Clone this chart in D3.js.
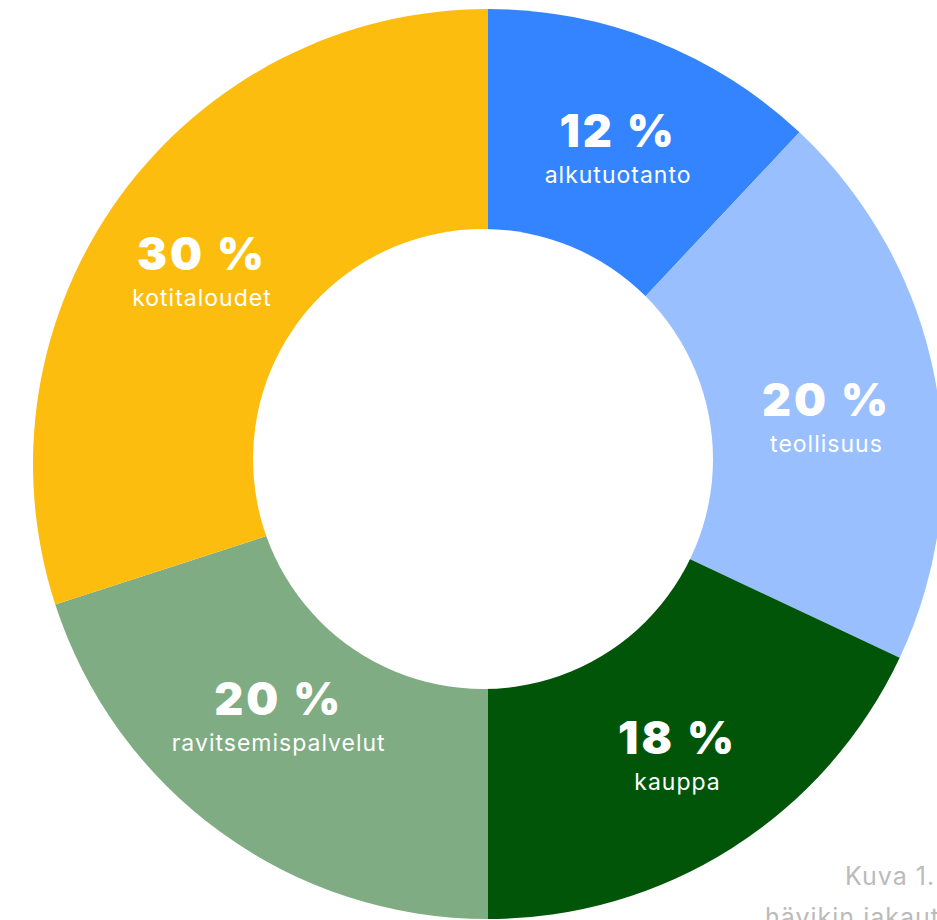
<!DOCTYPE html>
<html>
<head>
<meta charset="utf-8">
<script src="https://cdn.jsdelivr.net/npm/d3@7"></script>
<style>
  html, body { margin: 0; padding: 0; background: #fff; overflow: hidden; }
  svg { display: block; }
</style>
</head>
<body>
<div id="chart"></div>
<script>
// sector data, clockwise from 12 o'clock
const categories = ["alkutuotanto", "teollisuus", "kauppa", "ravitsemispalvelut", "kotitaloudet"];
const shares = [12, 20, 18, 20, 30];
const colors = ["#3584ff", "#99bfff", "#005509", "#80ac83", "#fdbd0f"];

const width = 937;
const height = 920;
const cx = 488, cy = 464;
const outerR = 455;
const holeR = 230;

// hand placement tweaks for the labels (px, relative to arc centroid)
const labelNudge = [[4, 0], [2, 15], [6, 0], [-8, -27], [-9, 6]];

const svg = d3.select("#chart").append("svg")
  .attr("width", width)
  .attr("height", height);

const pieData = categories.map((name, i) => ({ name, value: shares[i], color: colors[i], nudge: labelNudge[i] }));

const pie = d3.pie().sort(null).value(d => d.value);
const arc = d3.arc().innerRadius(0).outerRadius(outerR);
const labelArc = d3.arc().innerRadius(holeR).outerRadius(outerR);

const g = svg.append("g").attr("transform", `translate(${cx},${cy})`);

g.selectAll("path.slice")
  .data(pie(pieData))
  .enter()
  .append("path")
  .attr("class", "slice")
  .attr("d", arc)
  .attr("fill", d => d.data.color);

// white hole (sits slightly up-left of the slice centre)
svg.append("circle")
  .attr("cx", 483)
  .attr("cy", 459)
  .attr("r", holeR)
  .attr("fill", "#fff");

const labels = g.selectAll("g.label")
  .data(pie(pieData))
  .enter()
  .append("g")
  .attr("class", "label")
  .attr("transform", d => {
    const c = labelArc.centroid(d);
    return `translate(${c[0] + d.data.nudge[0]},${c[1] + d.data.nudge[1]})`;
  });

labels.append("text")
  .attr("text-anchor", "middle")
  .attr("y", 1)
  .style("font-family", "Inter, 'Open Sans', sans-serif")
  .style("font-weight", 900)
  .style("font-size", "45px")
  .style("letter-spacing", "3px")
  .attr("fill", "#fff")
  .text(d => d.data.value + " %");

labels.append("text")
  .attr("text-anchor", "middle")
  .attr("y", 37)
  .style("font-family", "Inter, 'Open Sans', sans-serif")
  .style("font-weight", 400)
  .style("font-size", "23px")
  .style("letter-spacing", "1px")
  .attr("fill", "#fff")
  .text(d => d.data.name);

// caption, cut by the window edge
svg.append("text")
  .attr("x", 845)
  .attr("y", 885)
  .style("font-family", "Inter, 'Open Sans', sans-serif")
  .style("font-size", "25px")
  .style("letter-spacing", "1px")
  .attr("fill", "#bbbbbb")
  .text("Kuva 1.");

svg.append("text")
  .attr("x", 765)
  .attr("y", 926)
  .style("font-family", "Inter, 'Open Sans', sans-serif")
  .style("font-size", "25px")
  .style("letter-spacing", "1px")
  .attr("fill", "#bbbbbb")
  .text("hävikin jakautuminen");
</script>
</body>
</html>
